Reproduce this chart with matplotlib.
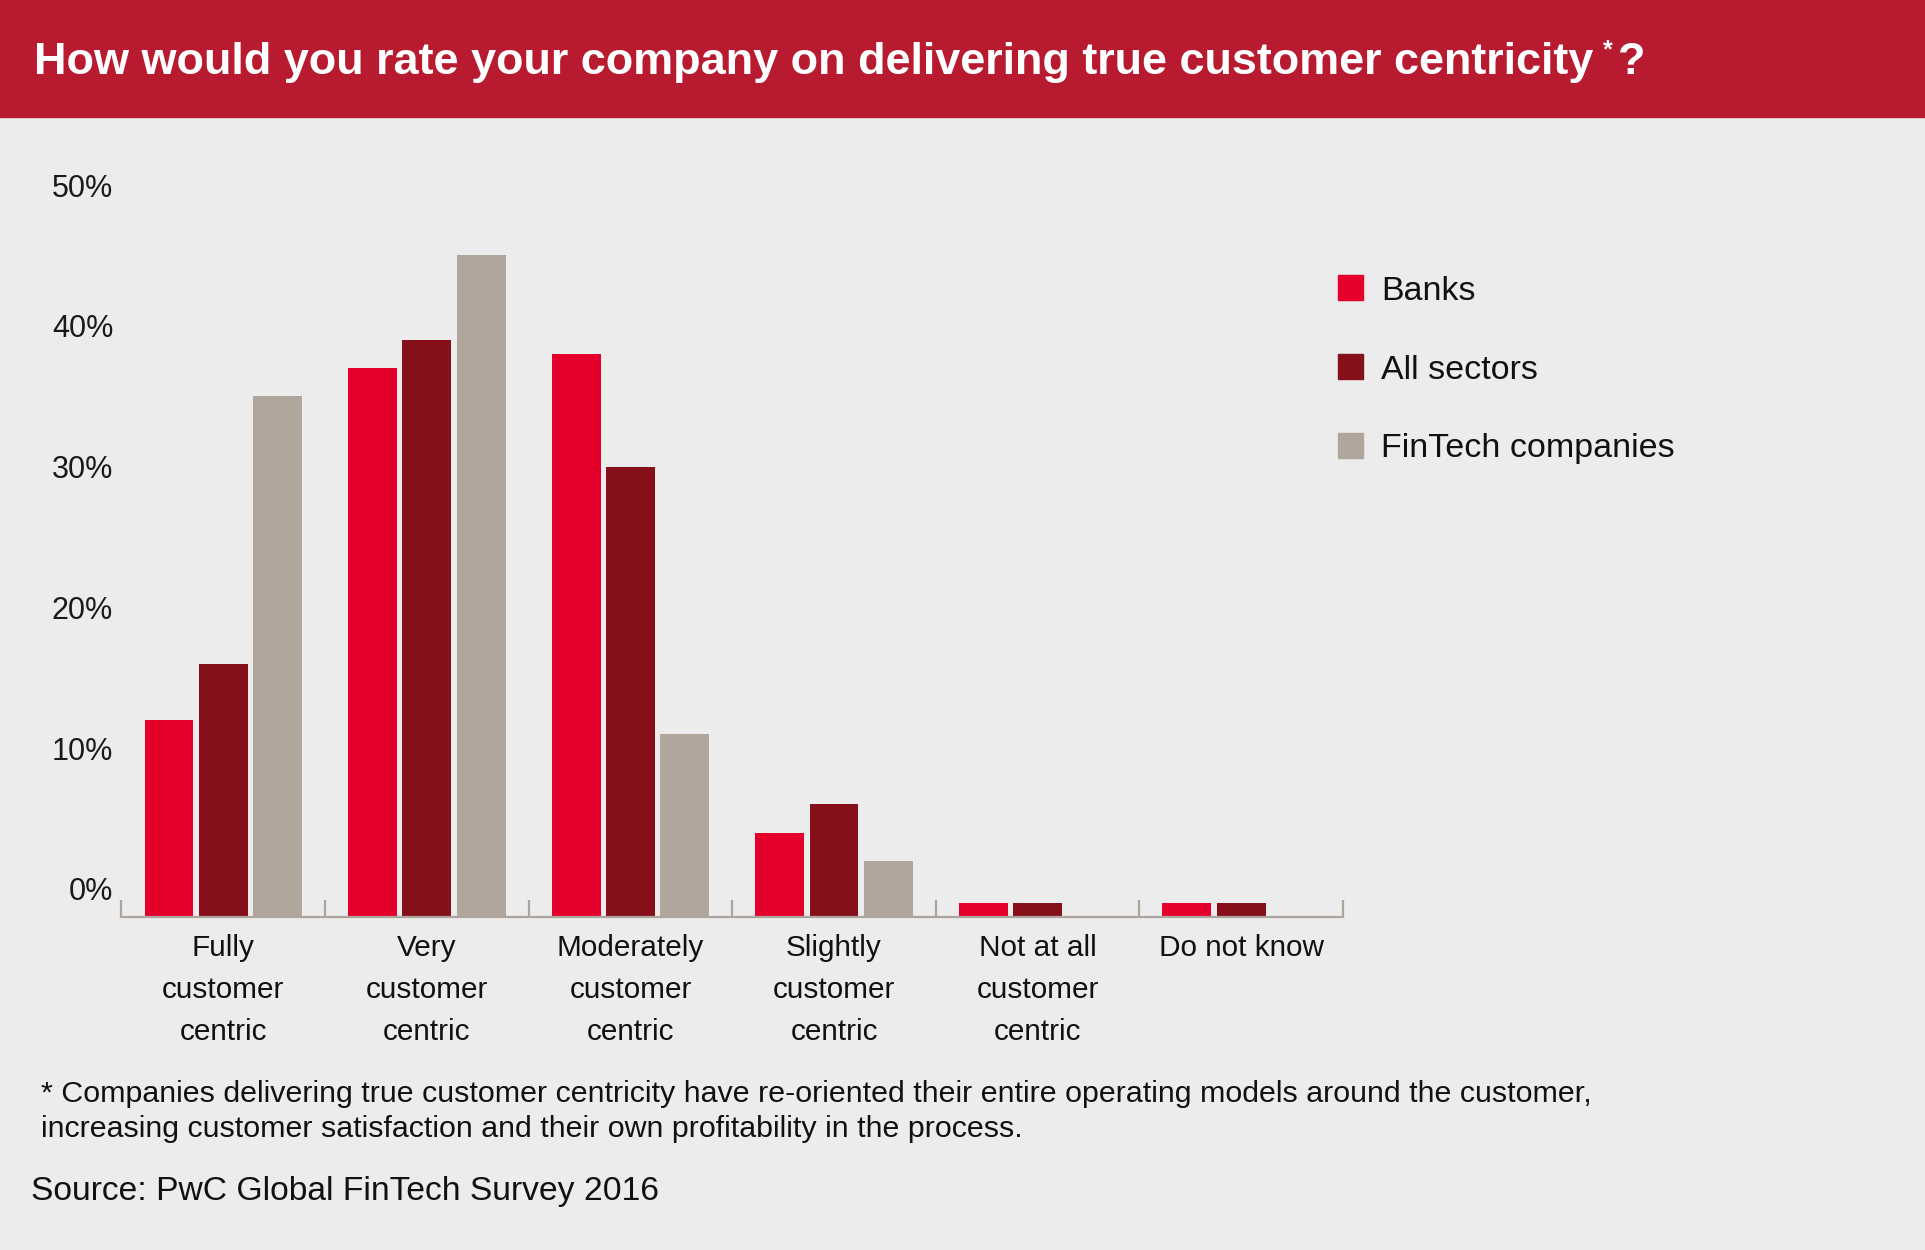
import numpy as np
import matplotlib.pyplot as plt
from matplotlib.patches import Rectangle

plt.rcParams['font.family'] = ['Liberation Sans', 'DejaVu Sans']

# --- data (percent of respondents) ---
categories = ["Fully\ncustomer\ncentric", "Very\ncustomer\ncentric",
              "Moderately\ncustomer\ncentric", "Slightly\ncustomer\ncentric",
              "Not at all\ncustomer\ncentric", "Do not know"]
series_names = ["Banks", "All sectors", "FinTech companies"]
banks = [12, 37, 38, 4, 0, 0]
all_sectors = [16, 39, 30, 6, 0, 0]
fintech = [35, 45, 11, 2, None, None]
yticks = [0, 10, 20, 30, 40, 50]
ytick_labels = ["0%", "10%", "20%", "30%", "40%", "50%"]

colors = ["#E4002B", "#85101A", "#B0A69C"]
bg = "#ECECEC"
title_red = "#B81B30"
axis_grey = "#ADA59C"

W, H = 1925, 1250
fig = plt.figure(figsize=(W / 100, H / 100), dpi=100, facecolor=bg)

# title band
fig.add_artist(Rectangle((0, 1 - 117 / H), 1, 117 / H, transform=fig.transFigure,
                         color=title_red, zorder=0))
t = fig.text(34 / W, 1 - 74 / H, "How would you rate your company on delivering true customer centricity",
             color="white", fontsize=32.4, fontweight="bold", ha="left", va="baseline")
fig.canvas.draw()
bb = t.get_window_extent()
x_end = bb.x1 / W
fig.text(x_end + 10 / W, 1 - 57 / H, "*", color="white", fontsize=18, fontweight="bold",
         ha="left", va="baseline")
fig.text(x_end + 25 / W, 1 - 74 / H, "?", color="white", fontsize=32.4, fontweight="bold",
         ha="left", va="baseline")

# chart
base = -2.0      # bars are drawn down to the axis line, which sits below 0%
stub = 1.0       # zero answers are shown as a thin stub
ax = fig.add_axes([121.5 / W, 1 - 917 / H, (1343 - 121.5) / W, (917 - 171) / H])
ax.set_facecolor(bg)
x = np.arange(len(categories))
width = 0.24
offsets = [-0.267, 0.0, 0.267]
for vals, off, col, name in zip([banks, all_sectors, fintech], offsets, colors, series_names):
    xs, hs = [], []
    for xi, v in zip(x, vals):
        if v is None:
            continue
        xs.append(xi + off)
        hs.append(v - base if v > 0 else stub)
    ax.bar(xs, hs, width=width, bottom=base, color=col, label=name, zorder=2)

ax.set_xlim(-0.5, len(categories) - 0.5)
ax.set_ylim(base, 51)
for s in ["top", "right", "left"]:
    ax.spines[s].set_visible(False)
ax.spines["bottom"].set_color(axis_grey)
ax.spines["bottom"].set_linewidth(1.6)
ax.spines["bottom"].set_zorder(3)

ax.set_yticks(yticks)
ax.set_yticklabels(ytick_labels)
ax.tick_params(axis="y", length=0, pad=6, labelsize=22, labelcolor="#1a1a1a")

ax.set_xticks(x)
ax.set_xticklabels(categories, linespacing=1.64)
ax.tick_params(axis="x", which="major", length=0, pad=12, labelsize=21.4, labelcolor="#111111")
ax.set_xticks(np.arange(-0.5, len(categories)), minor=True)
ax.tick_params(axis="x", which="minor", direction="in", length=12, width=1.6, color=axis_grey)

# legend
leg_y = [288, 366.5, 445]
for yc, col, name in zip(leg_y, colors, series_names):
    fig.add_artist(Rectangle((1338 / W, 1 - (yc + 12.5) / H), 25 / W, 25 / H,
                             transform=fig.transFigure, color=col))
    fig.text(1381 / W, 1 - (yc + 12.5) / H, name, fontsize=24.5, color="#111111",
             ha="left", va="baseline")

# footnote and source
fig.text(41 / W, 1 - 1137 / H,
         "* Companies delivering true customer centricity have re-oriented their entire operating models around the customer,\n"
         "increasing customer satisfaction and their own profitability in the process.",
         fontsize=21.9, color="#111111", ha="left", va="baseline", linespacing=1.33)
fig.text(31 / W, 1 - 1200 / H, "Source: PwC Global FinTech Survey 2016",
         fontsize=24.25, color="#111111", ha="left", va="baseline")

fig.savefig("out.png", dpi=100, facecolor=bg)
